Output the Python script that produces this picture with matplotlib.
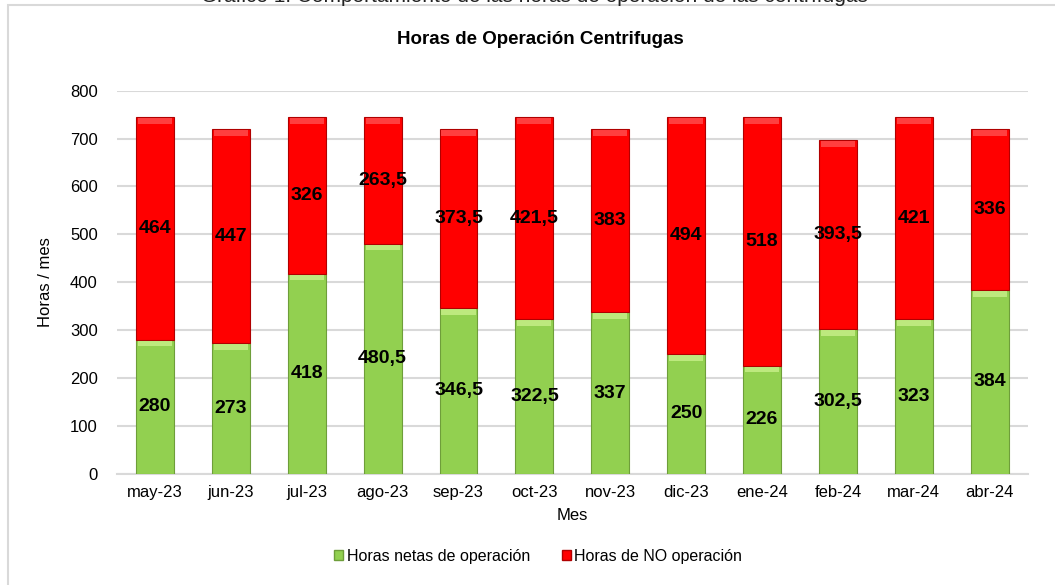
import matplotlib
matplotlib.use("Agg")
import matplotlib.pyplot as plt
from matplotlib.patches import Rectangle, Patch
import numpy as np

months = ["may-23", "jun-23", "jul-23", "ago-23", "sep-23", "oct-23",
          "nov-23", "dic-23", "ene-24", "feb-24", "mar-24", "abr-24"]
horas_netas = [280, 273, 418, 480.5, 346.5, 322.5, 337, 250, 226, 302.5, 323, 384]
horas_no = [464, 447, 326, 263.5, 373.5, 421.5, 383, 494, 518, 393.5, 421, 336]
yticks = [0, 100, 200, 300, 400, 500, 600, 700, 800]

FONT = ["Liberation Sans Narrow", "Liberation Sans", "DejaVu Sans"]
plt.rcParams["font.family"] = FONT

GREEN = "#92D050"
GREEN_TOP = "#C8F08A"
GREEN_EDGE = "#6E9E3A"
RED = "#FF0000"
RED_TOP = "#FF5050"
RED_EDGE = "#B00000"

fig = plt.figure(figsize=(10.55, 5.85), dpi=100)
ax = fig.add_axes([0.111, 0.190, 0.863, 0.655])

x = np.arange(len(months))
w = 0.5
g = np.array(horas_netas, dtype=float)
r = np.array(horas_no, dtype=float)

ax.bar(x, g, width=w, color=GREEN, edgecolor=GREEN_EDGE, linewidth=0.8, zorder=3)
ax.bar(x, r, width=w, bottom=g, color=RED, edgecolor=RED_EDGE, linewidth=0.8, zorder=3)
# bevel highlight at top of each segment
bev = 12
ax.bar(x, [bev] * len(x), width=w * 0.9, bottom=g - bev - 2, color=GREEN_TOP, linewidth=0, zorder=4, alpha=0.8)
ax.bar(x, [bev] * len(x), width=w * 0.9, bottom=g + r - bev - 2, color=RED_TOP, linewidth=0, zorder=4, alpha=0.8)

def fmt(v):
    s = ("%g" % v)
    return s.replace(".", ",")

for xi, gv, rv in zip(x, g, r):
    ax.text(xi, gv / 2, fmt(gv), ha="center", va="center", fontsize=14,
            fontweight="bold", color="black", zorder=5)
    ax.text(xi, gv + rv / 2, fmt(rv), ha="center", va="center", fontsize=14,
            fontweight="bold", color="black", zorder=5)

ax.set_ylim(0, 800)
ax.set_xlim(-0.5, len(months) - 0.5)
ax.set_yticks(yticks)
ax.set_xticks(x)
ax.set_xticklabels(months)
ax.tick_params(axis="both", length=0, labelsize=12, colors="black")
ax.tick_params(axis="x", pad=8)
ax.tick_params(axis="y", pad=14)
ax.grid(axis="y", color="#D9D9D9", linewidth=1.5, zorder=0)
ax.set_axisbelow(True)
for s in ["top", "right", "left"]:
    ax.spines[s].set_visible(False)
ax.spines["bottom"].set_color("#D9D9D9")
ax.spines["bottom"].set_linewidth(1.5)

ax.set_ylabel("Horas / mes", fontsize=12, labelpad=12)
ax.set_xlabel("Mes", fontsize=12, labelpad=6)

fig.text(0.512, 1 - 40 / 585, "Horas de Operación Centrifugas", ha="center", va="center",
         fontsize=13.5, fontweight="bold")

# caption cut off by the top edge, as in the source image
fig.text(0.507, 1 - 1.5 / 585, "Gráfico 1. Comportamiento de las horas de operación de las centrífugas",
         ha="center", va="baseline", fontsize=15, color="#222222",
         family=["Liberation Sans", "DejaVu Sans"])

# outer frame
fig.patches.append(Rectangle((8 / 1055, -0.1), 1.2, 1 - 5 / 585 + 0.1, transform=fig.transFigure,
                             fill=False, edgecolor="#D9D9D9", linewidth=1.5))

handles = [Patch(facecolor=GREEN, edgecolor=GREEN_EDGE, label="Horas netas de operación"),
           Patch(facecolor=RED, edgecolor=RED_EDGE, label="Horas de NO operación")]
fig.legend(handles=handles, loc="center", bbox_to_anchor=(0.51, 1 - 556 / 585), ncol=2,
           frameon=False, fontsize=11.5, handlelength=0.6, handleheight=0.6,
           handletextpad=0.2, columnspacing=2.0)

fig.savefig("out.png", dpi=100)
